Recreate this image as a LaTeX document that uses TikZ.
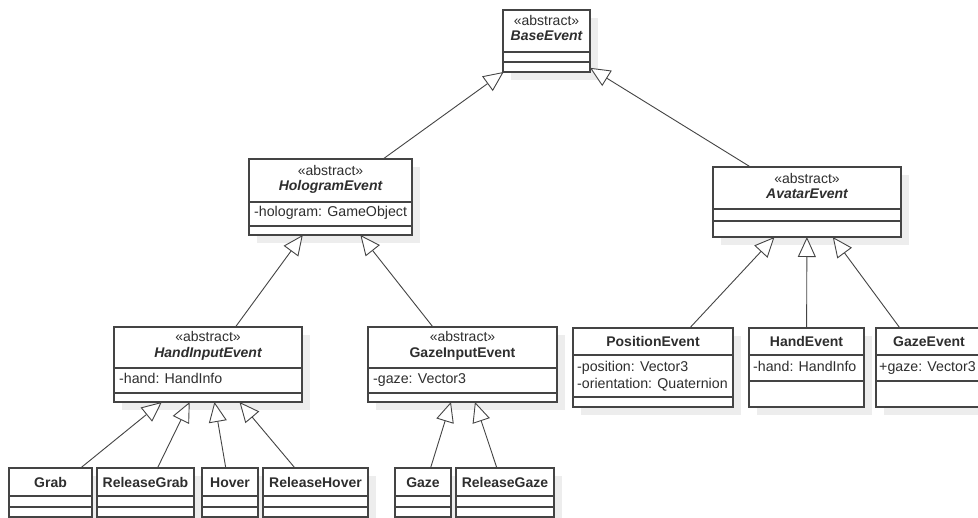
\documentclass[tikz,border=0pt]{standalone}
\usepackage{fontspec}
\setmainfont{Liberation Sans}
\usetikzlibrary{arrows.meta,fit,backgrounds}

\definecolor{inkc}{HTML}{2E2E2E}
\definecolor{framec}{HTML}{444444}
\definecolor{shadowc}{HTML}{EDEDED}

\tikzset{
  classbox/.style={draw=framec, fill=white, line width=1.2bp, inner sep=0pt, outer sep=0pt, rectangle},
  classline/.style={draw=framec, line width=1.2bp},
  boxshadow/.style={fill=shadowc},
  stereo/.style={text=inkc, inner sep=0pt, anchor=base, font=\fontsize{14bp}{16bp}\selectfont},
  aname/.style={text=inkc, inner sep=0pt, anchor=base, font=\fontsize{14bp}{16bp}\selectfont\bfseries\itshape},
  cname/.style={text=inkc, inner sep=0pt, anchor=base, font=\fontsize{14bp}{16bp}\selectfont\bfseries},
  attr/.style={text=inkc, inner sep=0pt, anchor=base west, font=\fontsize{14.2bp}{16bp}\selectfont},
  inherit/.style={draw=framec, line width=0.9bp, -{Triangle[fill=white, length=20bp, width=18bp]}},
}

% class frame: name, left, top, right, bottom, with its drop shadow
\newcommand\umlframe[5]{%
  \begin{pgfonlayer}{background}
    \fill[boxshadow] (#2+8,#3+8) rectangle (#4+8,#5+8);
  \end{pgfonlayer}
  \node[classbox, fit={(#2,#3) (#4,#5)}] (#1) {};
}
% compartment separator across a frame
\newcommand\umlsep[2]{\draw[classline] (#1.west |- 0,#2) -- (#1.east |- 0,#2);}

\begin{document}
\begin{tikzpicture}[x=1bp, y=-1bp]
\begin{pgfonlayer}{background}
  \fill[white] (0,0) rectangle (978,518);
\end{pgfonlayer}
\useasboundingbox (0,0) rectangle (978,518);

% ---- BaseEvent
\umlframe{base}{503}{10}{590}{72}
\umlsep{base}{52}\umlsep{base}{62}
\node[stereo] (base-st) at (546.5,26) {«abstract»};
\node[aname] (base-nm) at (546.5,41) {BaseEvent};

% ---- HologramEvent
\umlframe{holo}{249}{159}{412}{235}
\umlsep{holo}{202}\umlsep{holo}{226}
\node[stereo] (holo-st) at (330.5,176) {«abstract»};
\node[aname] (holo-nm) at (330.5,191) {HologramEvent};
\node[attr] (holo-a1) at (254,217) {-hologram: GameObject};

% ---- AvatarEvent
\umlframe{avatar}{713}{167}{901}{237}
\umlsep{avatar}{209}\umlsep{avatar}{221}
\node[stereo] (avatar-st) at (807,184) {«abstract»};
\node[aname] (avatar-nm) at (807,199) {AvatarEvent};

% ---- HandInputEvent
\umlframe{handin}{114}{327}{302}{402}
\umlsep{handin}{368}\umlsep{handin}{393}
\node[stereo] (handin-st) at (208,342) {«abstract»};
\node[aname] (handin-nm) at (208,358) {HandInputEvent};
\node[attr] (handin-a1) at (119,384) {-hand: HandInfo};

% ---- GazeInputEvent
\umlframe{gazein}{368}{327}{557}{402}
\umlsep{gazein}{368}\umlsep{gazein}{393}
\node[stereo] (gazein-st) at (462.5,342) {«abstract»};
\node[cname] (gazein-nm) at (462.5,358) {GazeInputEvent};
\node[attr] (gazein-a1) at (373,384) {-gaze: Vector3};

% ---- PositionEvent
\umlframe{pos}{573}{328}{733}{407}
\umlsep{pos}{355}\umlsep{pos}{397}
\node[cname] (pos-nm) at (653,347) {PositionEvent};
\node[attr] (pos-a1) at (577,372) {-position: Vector3};
\node[attr] (pos-a2) at (577,388) {-orientation: Quaternion};

% ---- HandEvent
\umlframe{hand}{749}{328}{864}{407}
\umlsep{hand}{355}\umlsep{hand}{381}
\node[cname] (hand-nm) at (806.5,347) {HandEvent};
\node[attr] (hand-a1) at (753,372) {-hand: HandInfo};

% ---- GazeEvent
\umlframe{gaze}{876}{328}{982}{407}
\umlsep{gaze}{355}\umlsep{gaze}{381}
\node[cname] (gaze-nm) at (929,347) {GazeEvent};
\node[attr] (gaze-a1) at (879,372) {+gaze: Vector3};

% ---- concrete input events
\umlframe{grab}{9}{468}{92}{517}
\umlsep{grab}{496}\umlsep{grab}{507}
\node[cname] (grab-nm) at (50.5,487) {Grab};

\umlframe{relgrab}{97}{468}{194}{517}
\umlsep{relgrab}{496}\umlsep{relgrab}{507}
\node[cname] (relgrab-nm) at (145.5,487) {ReleaseGrab};

\umlframe{hover}{202}{468}{258}{517}
\umlsep{hover}{496}\umlsep{hover}{507}
\node[cname] (hover-nm) at (230,487) {Hover};

\umlframe{relhover}{263}{468}{368}{517}
\umlsep{relhover}{496}\umlsep{relhover}{507}
\node[cname] (relhover-nm) at (315.5,487) {ReleaseHover};

\umlframe{gz}{395}{468}{451}{517}
\umlsep{gz}{496}\umlsep{gz}{507}
\node[cname] (gz-nm) at (423,487) {Gaze};

\umlframe{relgz}{456}{468}{554}{517}
\umlsep{relgz}{496}\umlsep{relgz}{507}
\node[cname] (relgz-nm) at (505,487) {ReleaseGaze};

% ---- generalisations
\draw[inherit] (holo) -- (base);
\draw[inherit] (avatar) -- (base);
\draw[inherit] (handin) -- (holo);
\draw[inherit] (gazein) -- (holo);
\draw[inherit] (pos) -- (avatar);
\draw[inherit] (hand) -- (avatar);
\draw[inherit] (gaze) -- (avatar);
\draw[inherit] (grab) -- (handin);
\draw[inherit] (relgrab) -- (handin);
\draw[inherit] (hover) -- (handin);
\draw[inherit] (relhover) -- (handin);
\draw[inherit] (gz) -- (gazein);
\draw[inherit] (relgz) -- (gazein);
\end{tikzpicture}
\end{document}
